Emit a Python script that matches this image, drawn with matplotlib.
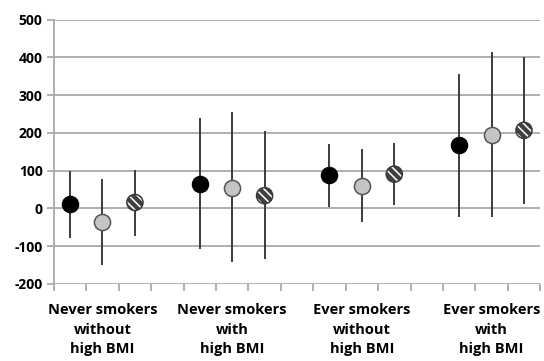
import matplotlib
matplotlib.use("Agg")
import matplotlib.pyplot as plt
import numpy as np

plt.rcParams['font.family'] = ['Open Sans', 'DejaVu Sans']
plt.rcParams['hatch.color'] = 'white'
plt.rcParams['hatch.linewidth'] = 1.1

groups = ["Never smokers\nwithout\nhigh BMI", "Never smokers\nwith\nhigh BMI",
          "Ever smokers\nwithout\nhigh BMI", "Ever smokers\nwith\nhigh BMI"]
# series: black, grey, hatched
black_mid = [13, 66, 88, 167]
black_lo = [-77, -107, 5, -23]
black_hi = [100, 240, 172, 357]
grey_mid = [-36, 55, 60, 195]
grey_lo = [-149, -142, -37, -23]
grey_hi = [77, 255, 158, 415]
hatch_mid = [16, 34, 91, 207]
hatch_lo = [-73, -135, 8, 11]
hatch_hi = [103, 204, 174, 400]
yticks = [-200, -100, 0, 100, 200, 300, 400, 500]

fig = plt.figure(figsize=(5.44, 3.61), dpi=100)
ax = fig.add_axes([0.099, 0.2133, 0.894, 0.732])

gridc = '#a9a9a9'
for y in yticks:
    ax.axhline(y, color=gridc, lw=1.3, zorder=0)

series = [(black_mid, black_lo, black_hi, 0), (grey_mid, grey_lo, grey_hi, 1),
          (hatch_mid, hatch_lo, hatch_hi, 2)]
ms = 135
for mid, lo, hi, k in series:
    xs = np.arange(4) * 4 + k
    ax.vlines(xs, lo, hi, color='#3c3c3c', lw=1.4, zorder=2)
    if k == 0:
        ax.scatter(xs, mid, s=ms, c='black', edgecolors='black', linewidths=1, zorder=3)
    elif k == 1:
        ax.scatter(xs, mid, s=ms, c='#c4c4c4', edgecolors='#555555', linewidths=1.1, zorder=3)
    else:
        ax.scatter(xs, mid, s=ms, facecolors='#404040', edgecolors='white', linewidths=0,
                   hatch='\\\\\\\\', zorder=3)
        ax.scatter(xs, mid, s=ms, facecolors='none', edgecolors='#3a3a3a', linewidths=1.1, zorder=4)

ax.set_xlim(-0.5, 14.5)
ax.set_ylim(-200, 500)
ax.set_yticks(yticks)
ax.set_yticklabels([str(v) for v in yticks], fontsize=10, fontweight='bold')
ax.tick_params(axis='y', length=5, color=gridc, width=1.3, pad=3)

ax.set_xticks([1, 5, 9, 13])
ax.set_xticklabels(groups, fontsize=10.5, fontweight='bold', linespacing=1.5)
ax.set_xticks(np.arange(-0.5, 15, 1), minor=True)
ax.tick_params(axis='x', which='major', length=0, pad=14)
ax.tick_params(axis='x', which='minor', length=5, color=gridc, width=1.3)

for s in ['top', 'right', 'bottom']:
    ax.spines[s].set_visible(False)
ax.spines['left'].set_color(gridc)
ax.spines['left'].set_linewidth(1.3)

fig.savefig('out.png', dpi=100)
